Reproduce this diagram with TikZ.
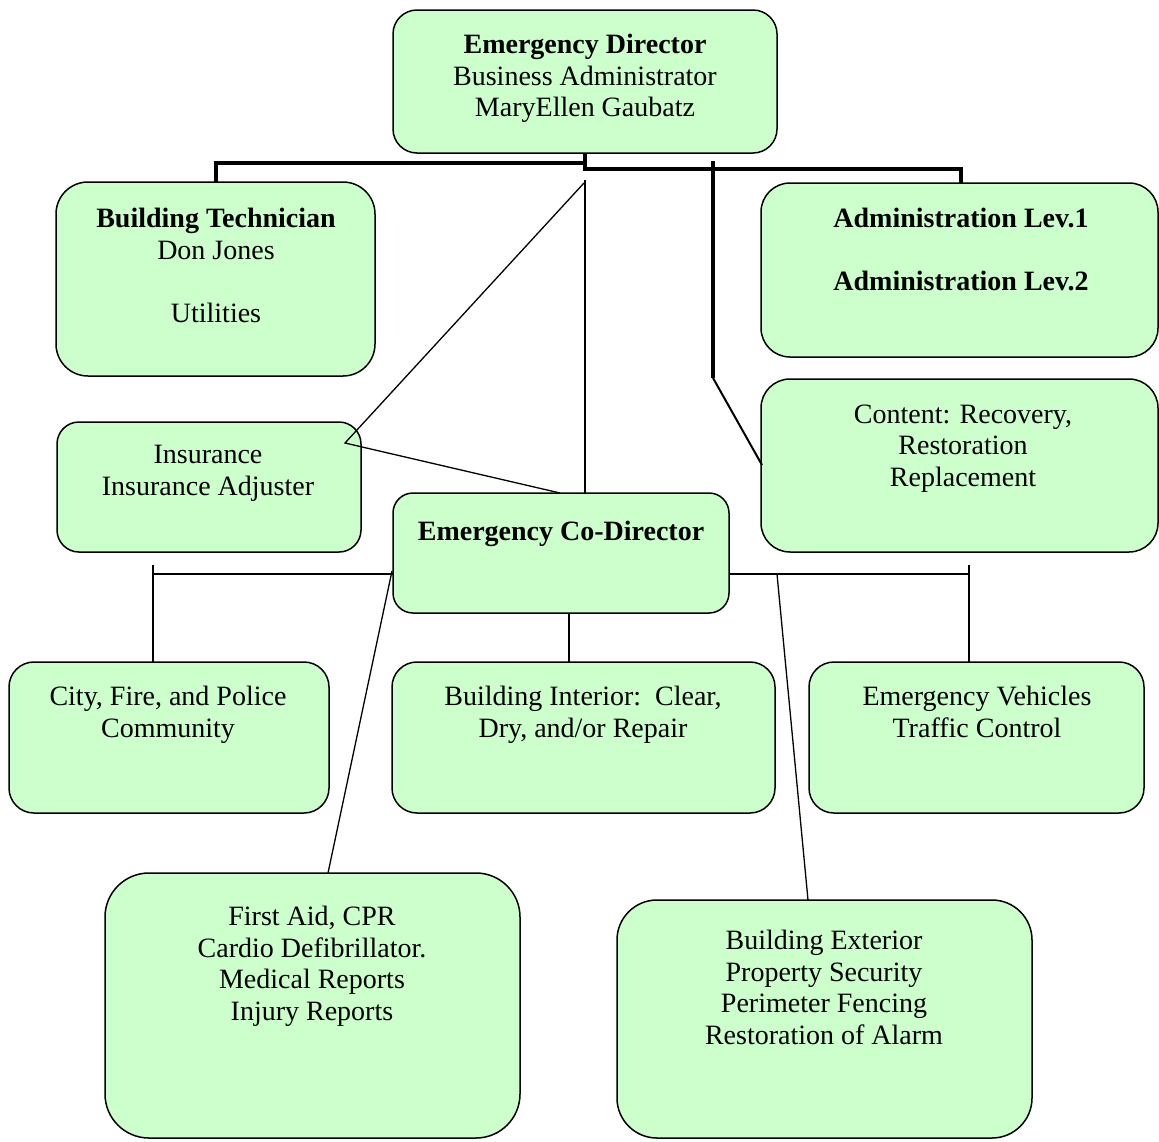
\documentclass[tikz,border=0pt]{standalone}
\usepackage{fontspec}
\setmainfont{Liberation Serif}
\definecolor{boxgreen}{HTML}{CCFFCC}
\begin{document}
\begin{tikzpicture}[x=1pt,y=-1pt,
  box/.style={draw, fill=boxgreen, line width=1.5pt, inner sep=0pt, outer sep=0pt},
  txt/.style={inner sep=0pt, outer sep=0pt, align=center, anchor=north,
    font=\fontsize{28}{31.6}\selectfont, execute at begin node={\rule{0pt}{22pt}}},
  thin/.style={line width=1.3pt},
  heavy/.style={line width=4pt},
  medium/.style={line width=2pt}]
\useasboundingbox (0,0) rectangle (1159,1141);
% boxes
\node[box, minimum width=384pt, minimum height=143pt, rounded corners=24pt] (ed) at (585,81.5) {};
\node[box, minimum width=319pt, minimum height=194pt, rounded corners=32pt] (bt) at (215.5,279) {};
\node[box, minimum width=397pt, minimum height=174pt, rounded corners=29pt] (adm) at (959.5,270) {};
\node[box, minimum width=304pt, minimum height=130pt, rounded corners=22pt] (ins) at (209,487) {};
\node[box, minimum width=397pt, minimum height=173pt, rounded corners=29pt] (con) at (959.5,465.5) {};
\node[box, minimum width=336pt, minimum height=120pt, rounded corners=20pt] (cd) at (561,553) {};
\node[box, minimum width=320pt, minimum height=151pt, rounded corners=25pt] (city) at (169,737.5) {};
\node[box, minimum width=383pt, minimum height=151pt, rounded corners=25pt] (int) at (583.5,737.5) {};
\node[box, minimum width=335pt, minimum height=151pt, rounded corners=25pt] (veh) at (976.5,737.5) {};
\node[box, minimum width=415pt, minimum height=265pt, rounded corners=44pt] (fa) at (312.5,1005.5) {};
\node[box, minimum width=415pt, minimum height=238pt, rounded corners=40pt] (ext) at (824.5,1019) {};
% texts
\node[txt] (edt) at (585,34) {\textbf{Emergency Director}\\Business Administrator\\MaryEllen Gaubatz};
\node[txt] (btt) at (216,208) {\textbf{Building Technician}\\Don Jones\\~\\Utilities};
\node[txt] (admt) at (961,208) {\textbf{Administration Lev.1}\\~\\\textbf{Administration Lev.2}};
\node[txt] (inst) at (208,445.5) {Insurance\\Insurance Adjuster};
\node[txt] (cont) at (963,404.5) {Content: Recovery,\\Restoration\\Replacement};
\node[txt] (cdt) at (561,518) {\textbf{Emergency Co-Director}};
\node[txt] (cityt) at (168,686) {City, Fire, and Police\\Community};
\node[txt] (intt) at (583,686) {Building Interior:\ \ Clear,\\Dry, and/or Repair};
\node[txt] (veht) at (977,686) {Emergency Vehicles\\Traffic Control};
\node[txt] (fat) at (312,906) {First Aid, CPR\\Cardio Defibrillator.\\Medical Reports\\Injury Reports};
\node[txt] (extt) at (824,930) {Building Exterior\\Property Security\\Perimeter Fencing\\Restoration of Alarm};
% junction coordinates
\coordinate (j1) at (585,162.5);
\coordinate (j2) at (585,168.5);
\coordinate (j3) at (961,168.5);
\coordinate (j4) at (216,162.5);
\coordinate (k1) at (713,161);
\coordinate (k2) at (713,378);
\coordinate (k3) at (762,465);
\coordinate (t1) at (585,180);
\coordinate (t2) at (584,183);
\coordinate (t3) at (345,443);
\coordinate (t4) at (560,493);
\coordinate (h1) at (153,574);
\coordinate (h1a) at (153,565);
\coordinate (h2) at (393,574);
\coordinate (h3) at (729,574);
\coordinate (h4) at (969,574);
\coordinate (h4a) at (969,565);
\coordinate (m1) at (569,613);
\coordinate (d1) at (392,571);
\coordinate (d2) at (777,574);
\coordinate (e1) at (328,873);
\coordinate (e2) at (808,900);
% heavy connectors
\draw[heavy] (ed.south) -- (j2) -- (j3) -- (j3 |- adm.north);
\draw[heavy] (j4 |- bt.north) -- (j4) -- (j1);
\draw[heavy] (k1) -- (k2);
\draw[medium] (k2) -- (k3);
% thin connectors
\draw[thin] (t1) -- (t1 |- cd.north);
\draw[thin] (t2) -- (t3) -- (t4);
\draw[thin] (h1) -- (h2);
\draw[thin] (h3) -- (h4);
\draw[thin] (h1a) -- (h1a |- city.north);
\draw[thin] (h4a) -- (h4a |- veh.north);
\draw[thin] (m1) -- (m1 |- int.north);
\draw[thin] (d1) -- (e1 |- fa.north);
\draw[thin] (d2) -- (e2 |- ext.north);
\end{tikzpicture}
\end{document}
